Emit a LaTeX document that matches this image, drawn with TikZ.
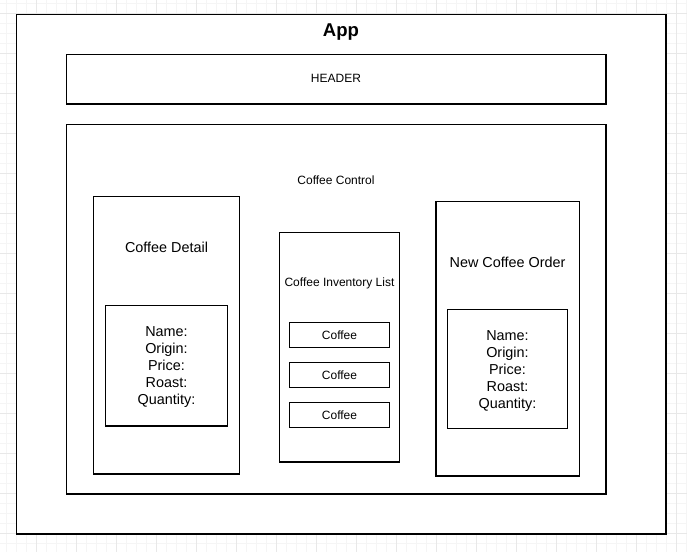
\documentclass[tikz,border=0pt]{standalone}
\usepackage{fontspec}
\setmainfont{Liberation Sans}
\usepackage{tikz}
\usetikzlibrary{positioning}
\tikzset{every node/.append style={inner sep=0pt}}
\tikzset{box/.style={draw=black, line width=0.8pt, fill=white}}
\tikzset{minorgrid/.style={draw={rgb,255:red,245;green,245;blue,245}, line width=0.75pt}}
\tikzset{majorgrid/.style={draw={rgb,255:red,232;green,232;blue,232}, line width=0.75pt}}
\tikzset{big/.style={font=\fontsize{10.8}{12.75}\selectfont, align=center}}
\tikzset{small/.style={font=\fontsize{9}{11}\selectfont}}

\begin{document}
\begin{tikzpicture}[x=0.75pt, y=-0.75pt]
  \useasboundingbox (0,0) rectangle (687,552);
% grid
  \foreach \i in {0,...,68}
    \draw[minorgrid] ({6.7+10*\i},0) -- ({6.7+10*\i},552);
  \foreach \j in {0,...,54}
    \draw[minorgrid] (0,{4+10*\j}) -- (687,{4+10*\j});
  \foreach \i in {0,...,16}
    \draw[majorgrid] ({36.7+40*\i},0) -- ({36.7+40*\i},552);
  \foreach \j in {0,...,13}
    \draw[majorgrid] (0,{14+40*\j}) -- (687,{14+40*\j});
% boxes
  \draw[box] (16.5,14.5) rectangle (666,534);
  \draw[box] (66.5,54.5) rectangle (606,104);
  \draw[box] (66.5,124.5) rectangle (606,494);
  \draw[box] (93.5,196.5) rectangle (239.5,474);
  \draw[box] (105.5,305.5) rectangle (227.5,426);
  \draw[box] (279.5,232.5) rectangle (399.5,462);
  \draw[box] (289.5,322.5) rectangle (389.5,347.5);
  \draw[box] (289.5,362.5) rectangle (389.5,387.5);
  \draw[box] (289.5,402.5) rectangle (389.5,427.5);
  \draw[box] (436,201.5) rectangle (579.5,476);
  \draw[box] (447.5,309.5) rectangle (567.5,428.5);
% labels
  \node[font=\fontsize{13.9}{16}\selectfont\bfseries] (app) at (341,32.5) {App};
  \node[small] (header) at (336,78.5) {HEADER};
  \node[small] (control) at (336,180) {Coffee Control};
  \node[big] (detail) at (166.5,247) {Coffee Detail};
  \node[big] (detailfields) at (166.5,367.5)
    {Name:\\Origin:\\Price:\\Roast:\\Quantity:};
  \node[small] (inventory) at (339.5,283) {Coffee Inventory List};
  \node[small] (coffeea) at (339.5,335) {Coffee};
  \node[small] (coffeeb) at (339.5,375) {Coffee};
  \node[small] (coffeec) at (339.5,415) {Coffee};
  \node[big] (order) at (507.5,262.5) {New Coffee Order};
  \node[big] (orderfields) at (507.5,371)
    {Name:\\Origin:\\Price:\\Roast:\\Quantity:};

\end{tikzpicture}
\end{document}
